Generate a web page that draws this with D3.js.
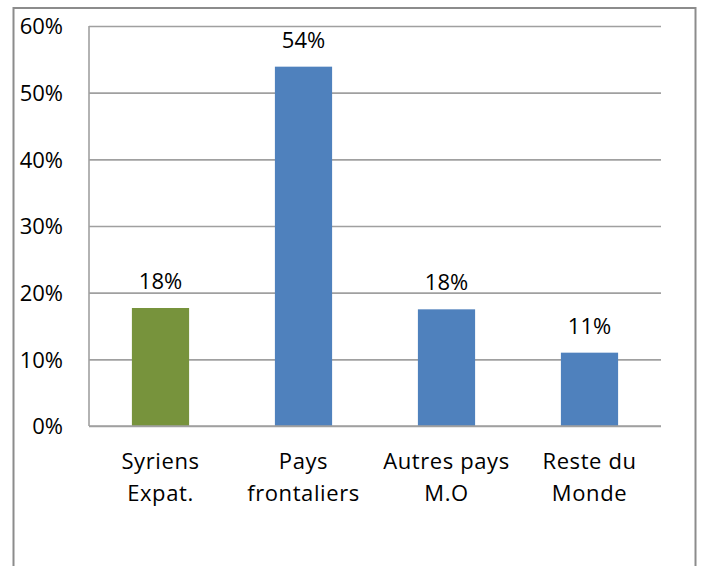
<!DOCTYPE html>
<html>
<head>
<meta charset="utf-8">
<script src="https://cdn.jsdelivr.net/npm/d3@7"></script>
<style>
  body { margin: 0; background: #fff; }
  text { font-family: "Open Sans", sans-serif; fill: #000; }
</style>
</head>
<body>
<div id="chart"></div>
<script>
// data
var categories = [["Syriens", "Expat."], ["Pays", "frontaliers"], ["Autres pays", "M.O"], ["Reste du", "Monde"]];
var values = [0.177, 0.539, 0.175, 0.110];
var labels = ["18%", "54%", "18%", "11%"];
var yTicks = [0, 0.1, 0.2, 0.3, 0.4, 0.5, 0.6];
var barColors = ["#77933c", "#4f81bd", "#4f81bd", "#4f81bd"];

var W = 702, H = 566;
var margin = {top: 26, right: 41, bottom: 140, left: 89},
    width = W - margin.left - margin.right,
    height = H - margin.top - margin.bottom;

var svg = d3.select("#chart")
  .append("svg")
    .attr("width", W)
    .attr("height", H);

// outer chart frame (runs off the bottom)
svg.append("rect")
  .attr("x", 13.5).attr("y", 8)
  .attr("width", 682).attr("height", 600)
  .attr("fill", "none")
  .attr("stroke", "#8c8c8c")
  .attr("stroke-width", 2);

var g = svg.append("g")
  .attr("transform", "translate(" + margin.left + "," + margin.top + ")");

var x = d3.scaleBand()
  .domain(d3.range(categories.length))
  .range([0, width]);

var y = d3.scaleLinear()
  .domain([0, 0.6])
  .range([height, 0]);

// gridlines + tick labels
var yAxis = g.append("g")
  .call(d3.axisLeft(y).tickValues(yTicks).tickSize(-width).tickFormat(d3.format(".0%")));
yAxis.select(".domain").remove();
yAxis.selectAll(".tick line")
  .attr("stroke", "#a0a0a0")
  .attr("stroke-width", 1.6);
yAxis.selectAll(".tick text")
  .attr("x", -26)
  .attr("dy", "0.35em")
  .style("font-size", "22px")
  .style("font-family", "Open Sans");

// vertical axis line
g.append("line")
  .attr("x1", 0).attr("x2", 0)
  .attr("y1", y(0.6)).attr("y2", y(0))
  .attr("stroke", "#a0a0a0")
  .attr("stroke-width", 1.6);

var bw = x.bandwidth() * 0.4;

g.selectAll(".bar")
  .data(values)
  .enter()
  .append("rect")
    .attr("class", "bar")
    .attr("x", function(d, i){ return x(i) + x.bandwidth() / 2 - bw / 2 })
    .attr("y", function(d){ return y(d) })
    .attr("width", bw)
    .attr("height", function(d){ return height - y(d) })
    .attr("fill", function(d, i){ return barColors[i] });

// redraw baseline over bars
g.append("line")
  .attr("x1", 0).attr("x2", width)
  .attr("y1", y(0)).attr("y2", y(0))
  .attr("stroke", "#a0a0a0")
  .attr("stroke-width", 1.6);

// data labels
g.selectAll(".lbl")
  .data(values)
  .enter()
  .append("text")
    .attr("x", function(d, i){ return x(i) + x.bandwidth() / 2 })
    .attr("y", function(d){ return y(d) - 19 })
    .attr("text-anchor", "middle")
    .style("font-size", "22px")
    .text(function(d, i){ return labels[i] });

// category labels
var cat = g.selectAll(".cat")
  .data(categories)
  .enter()
  .append("text")
    .attr("text-anchor", "middle")
    .attr("transform", function(d, i){ return "translate(" + (x(i) + x.bandwidth() / 2) + "," + (height + 43) + ")" })
    .style("font-size", "22px")
    .style("letter-spacing", "0.6px");
cat.selectAll("tspan")
  .data(function(d){ return d })
  .enter()
  .append("tspan")
    .attr("x", 0)
    .attr("y", function(d, j){ return j * 32 })
    .text(function(d){ return d });
</script>
</body>
</html>
